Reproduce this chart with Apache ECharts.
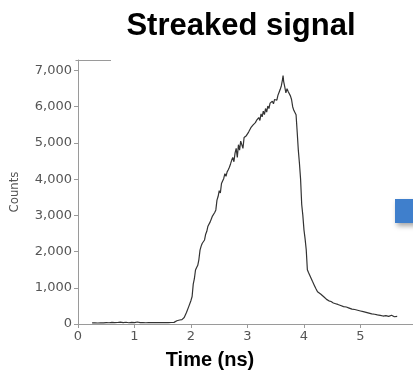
<!DOCTYPE html>
<html>
<head>
<meta charset="utf-8">
<script src="https://cdn.jsdelivr.net/npm/echarts@6/dist/echarts.min.js"></script>
<style>
html,body{margin:0;padding:0;background:#fff;}
#chart{width:413px;height:376px;}
</style>
</head>
<body>
<div id="chart"></div>
<script>
// Time values (ns)
var timeNs = [
0.25,0.30,0.35,0.40,0.45,0.50,0.55,0.60,0.65,0.70,0.75,0.80,0.85,0.90,0.95,1.00,1.05,1.10,1.15,1.20,1.25,1.30,1.35,1.40,1.45,1.50,1.55,1.60,1.65,1.70,1.75,1.80,1.84,1.88,1.92,1.96,2.00,2.02,2.04,2.06,2.08,2.10,2.12,2.14,2.16,2.18,2.20,2.22,2.24,2.26,2.28,2.30,2.32,2.34,2.36,2.38,2.40,2.42,2.44,2.46,2.48,2.50,2.52,2.54,2.56,2.58,2.60,2.62,2.64,2.66,2.68,2.70,2.72,2.74,2.76,2.78,2.80,2.82,2.84,2.86,2.88,2.90,2.92,2.94,2.96,2.98,3.00,3.02,3.04,3.06,3.08,3.10,3.12,3.14,3.16,3.18,3.20,3.22,3.24,3.26,3.28,3.30,3.32,3.34,3.36,3.38,3.40,3.42,3.44,3.46,3.48,3.50,3.52,3.54,3.56,3.58,3.60,3.62,3.63,3.64,3.66,3.68,3.70,3.72,3.74,3.76,3.78,3.80,3.82,3.84,3.86,3.88,3.90,3.92,3.94,3.96,3.98,4.00,4.02,4.04,4.06,4.08,4.10,4.12,4.15,4.18,4.21,4.24,4.27,4.30,4.33,4.36,4.40,4.44,4.48,4.52,4.56,4.60,4.65,4.70,4.75,4.80,4.85,4.90,4.95,5.00,5.05,5.10,5.15,5.20,5.25,5.30,5.35,5.40,5.45,5.50,5.55,5.60,5.65
];
// Counts
var counts = [
30,35,28,32,30,40,35,45,38,42,50,40,48,35,45,40,55,38,42,35,40,38,42,40,38,42,40,40,42,45,90,110,120,180,320,480,650,760,1100,1250,1490,1560,1620,1780,2040,2150,2230,2260,2320,2480,2560,2700,2750,2820,2900,2980,3010,3080,3150,3420,3520,3680,3620,3880,3850,4020,4150,4080,4200,4260,4330,4420,4520,4600,4480,4720,4850,4600,4950,4800,5050,5000,4850,5150,5100,5200,5250,5300,5350,5420,5380,5500,5480,5560,5620,5580,5700,5620,5800,5720,5880,5780,5950,5850,6020,5950,6100,6050,6150,6080,6200,6250,6180,6320,6400,6480,6580,6750,6860,6700,6550,6380,6500,6420,6460,6300,6200,6000,5900,5850,5780,5300,4800,4430,4000,3300,3000,2600,2350,2050,1500,1420,1350,1300,1180,1080,980,890,860,820,800,740,680,640,620,580,560,540,510,480,470,440,410,400,380,360,340,320,300,280,270,250,240,220,230,210,240,200,210
];
var yTicks = [0,1000,2000,3000,4000,5000,6000,7000];
var xTicks = [0,1,2,3,4,5];
var titleText = 'Streaked signal';
var xName = 'Time (ns)';
var yName = 'Counts';

var pts = timeNs.map(function(t,i){return [t, counts[i]];});

var chart = echarts.init(document.getElementById('chart'), null, {renderer:'canvas'});
chart.setOption({
  animation:false,
  backgroundColor:'#fff',
  grid:{left:75, right:0, top:60, bottom:52, containLabel:false},
  xAxis:{
    type:'value', min:0, max:5.93,
    axisLine:{show:true, lineStyle:{color:'#9a9a9a', width:1}},
    axisTick:{show:true, customValues:xTicks, length:4, lineStyle:{color:'#9a9a9a'}},
    axisLabel:{customValues:xTicks, color:'#555', fontSize:13, fontFamily:'DejaVu Sans', margin:6},
    splitLine:{show:false}
  },
  yAxis:{
    type:'value', min:0, max:7290,
    name:yName, nameLocation:'middle', nameGap:57,
    nameTextStyle:{color:'#555', fontSize:13, fontFamily:'DejaVu Sans Condensed, DejaVu Sans'},
    axisLine:{show:true, lineStyle:{color:'#9a9a9a', width:1}},
    axisTick:{show:true, customValues:yTicks, length:4, lineStyle:{color:'#9a9a9a'}},
    axisLabel:{customValues:yTicks, color:'#555', fontSize:13, fontFamily:'DejaVu Sans', margin:6,
      formatter:function(v){return v.toLocaleString('en-US');}},
    splitLine:{show:false}
  },
  graphic:[
    {type:'text', style:{text:titleText, x:241, y:26, fill:'#000', font:'bold 31px "Liberation Sans", Arial, sans-serif', textAlign:'center', textVerticalAlign:'middle'}},
    {type:'text', style:{text:xName, x:210, y:360, fill:'#000', font:'bold 20px "Liberation Sans", Arial, sans-serif', textAlign:'center', textVerticalAlign:'middle'}},
    {type:'line', shape:{x1:75.5, y1:60.5, x2:111, y2:60.5}, style:{stroke:'#9a9a9a', lineWidth:1}},
    {type:'rect', shape:{x:395, y:199, width:30, height:24}, style:{fill:'#3f7fcc', shadowBlur:5, shadowOffsetX:2, shadowOffsetY:3, shadowColor:'rgba(0,0,0,0.35)'}}
  ],
  series:[{
    type:'line', data:pts, showSymbol:false, symbol:'none',
    lineStyle:{color:'#333', width:1.2}
  }]
});
</script>
</body>
</html>
